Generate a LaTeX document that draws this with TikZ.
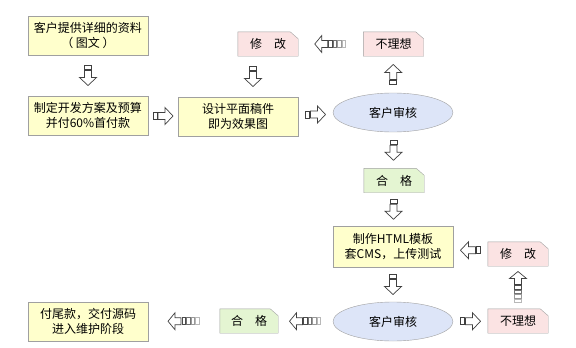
\documentclass[tikz,border=0pt]{standalone}
\usepackage{fontspec}
\setmainfont{Noto Sans CJK SC}
\usetikzlibrary{shapes.geometric,calc,backgrounds}
\definecolor{yfill}{HTML}{FFFFCC}
\definecolor{pfill}{HTML}{FBE3E3}
\definecolor{gfill}{HTML}{E4F5D2}
\definecolor{efill}{HTML}{DDE5F8}
\definecolor{bord}{HTML}{A0A0A0}
\definecolor{arr}{HTML}{404040}
\tikzset{
  txt/.style={align=center, inner sep=0pt, font=\fontsize{12}{14.5}\selectfont},
  ybox/.style={txt, draw=bord, fill=yfill, minimum width=120pt, minimum height=39pt},
  ell/.style={txt, ellipse, draw=bord, fill=efill, minimum width=120pt, minimum height=39pt},
  fold/.style={txt, minimum width=60pt, minimum height=24pt},
  arrline/.style={draw=arr, line width=0.7pt, fill=white},
  sarrow/.pic={
    \draw[arrline] (-10,-3.5) rectangle (-6,3.5);
    \draw[arrline] (-5,-3.5) -- (2,-3.5) -- (2,-8.5) -- (10,0) -- (2,8.5) -- (2,3.5) -- (-5,3.5) -- cycle;
  },
  larrow/.pic={
    \draw[arrline] (3,-3.5) -- (9,-3.5) -- (9,-8.5) -- (16,0) -- (9,8.5) -- (9,3.5) -- (3,3.5) -- cycle;
    \draw[arrline, draw=black!70] (-1.5,-3.5) rectangle (2,3.5);
    \draw[arrline, draw=black!55] (-6,-3.5) rectangle (-2.5,3.5);
    \draw[arrline, draw=black!40] (-10.5,-3.5) rectangle (-7,3.5);
    \draw[arrline, draw=black!28] (-15,-3.5) rectangle (-11.5,3.5);
  }
}
\newcommand\foldshape[2]{%
  \filldraw[draw=bord, fill=#2] (#1.south west) -- (#1.north west) -- ([xshift=-8pt]#1.north east) -- ([yshift=-7pt]#1.north east) -- (#1.south east) -- cycle;}
\begin{document}
\begin{tikzpicture}[x=1pt, y=-1pt]
\useasboundingbox (0,0) rectangle (576,348);
% nodes
\node[ybox] (b1) at (88,35.5) {客户提供详细的资料\\（ 图文 ）};
\node[ybox] (b2) at (88,115.5) {制定开发方案及预算\\并付60\%首付款};
\node[ybox] (b3) at (238,116.5) {设计平面稿件\\即为效果图};
\node[ell]  (e1) at (393,112.5) {客户审核};
\node[fold] (m1) at (268,44) {修　改};
\node[fold] (n1) at (393.5,44) {不理想};
\node[fold] (g1) at (394,180.5) {合　格};
\node[ybox, minimum height=41pt] (b4) at (393,246.5) {制作HTML模板\\套CMS，上传测试};
\node[fold] (m2) at (518,254) {修　改};
\node[fold] (n2) at (518,321) {不理想};
\node[ell]  (e2) at (393,321.5) {客户审核};
\node[fold, minimum width=58pt] (g2) at (249,321) {合　格};
\node[ybox] (b5) at (88,321.5) {付尾款，交付源码\\进入维护阶段};
\begin{scope}[on background layer]
\foldshape{m1}{pfill}
\foldshape{n1}{pfill}
\foldshape{g1}{gfill}
\foldshape{m2}{pfill}
\foldshape{n2}{pfill}
\foldshape{g2}{gfill}
\end{scope}
% connectors (block arrows)
\pic[rotate=-90] at ($(b1.south)!0.5!(b2.north)$) {sarrow};
\pic at ($(b2.east)!0.5!(b3.west)$) {sarrow};
\pic at ($(b3.east)!0.5!(e1.west)$) {sarrow};
\pic[rotate=90] at ($(e1.north)!0.5!(n1.south)$) {sarrow};
\pic[rotate=180] at ($(n1.west)!0.5!(m1.east)$) {larrow};
\pic[rotate=-90] at ($(m1.south)!0.5!(b3.north)$) {sarrow};
\pic[rotate=-90] at ($(e1.south)!0.5!(g1.north)$) {sarrow};
\pic[rotate=-90] at ($(g1.south)!0.5!(b4.north)$) {sarrow};
\pic[rotate=180] at ($(m2.west)!0.5!(b4.east)$) {sarrow};
\pic[rotate=90] at ($(n2.north)!0.5!(m2.south)$) {larrow};
\pic[rotate=-90] at ($(b4.south)!0.5!(e2.north)$) {sarrow};
\pic at ($(e2.east)!0.5!(n2.west)$) {sarrow};
\pic[rotate=180] at ($(e2.west)!0.5!(g2.east)$) {larrow};
\pic[rotate=180] at ($(g2.west)!0.5!(b5.east)$) {larrow};
\end{tikzpicture}
\end{document}
